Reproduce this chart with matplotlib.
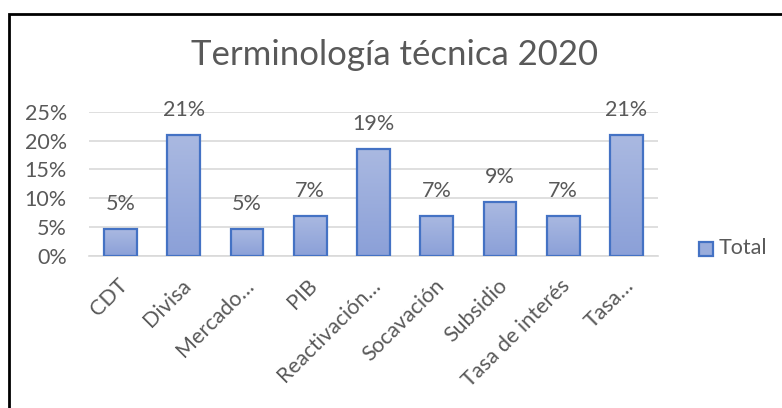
import matplotlib
matplotlib.use("Agg")
import matplotlib.pyplot as plt
import numpy as np
from matplotlib.patches import Rectangle
from matplotlib.ticker import FuncFormatter
from matplotlib.colors import LinearSegmentedColormap
import matplotlib.transforms as mtransforms

plt.rcParams['font.family'] = ['Lato', 'DejaVu Sans']

categories = ["CDT", "Divisa", "Mercado…", "PIB", "Reactivación…", "Socavación",
              "Subsidio", "Tasa de interés", "Tasa…"]
values = [4.65, 20.93, 4.65, 6.98, 18.60, 6.98, 9.30, 6.98, 20.93]
labels = ["5%", "21%", "5%", "7%", "19%", "7%", "9%", "7%", "21%"]
yticks = [0, 5, 10, 15, 20, 25]
series_name = "Total"
title = "Terminología técnica 2020"

W, H = 782, 408
fig = plt.figure(figsize=(W / 100, H / 100), dpi=100)
ax = fig.add_axes([89 / W, 1 - 256 / H, (658 - 89) / W, (256 - 111.7) / H])

gray = "#595959"
fs = 15.5
x = np.arange(len(categories))
bars = ax.bar(x, values, width=0.52, color="#9aaddc", edgecolor="#4472c4",
              linewidth=1.6, zorder=3, label=series_name)

# gradient fill
grad = np.linspace(0, 1, 256).reshape(-1, 1)
cmap = LinearSegmentedColormap.from_list("g", ["#8ba0d8", "#aab9e1"])
for b in bars:
    x0, y0 = b.get_x(), b.get_y()
    w, h = b.get_width(), b.get_height()
    im = ax.imshow(grad, extent=[x0, x0 + w, y0, y0 + h], origin="lower",
                   cmap=cmap, aspect="auto", zorder=2.5)
    im.set_clip_path(b)
    b.set_facecolor("none")

for xi, v, lab in zip(x, values, labels):
    ax.annotate(lab, (xi, v), xytext=(0, 25), textcoords="offset pixels",
                ha="center", va="center", fontsize=fs, color=gray)

ax.set_xlim(-0.5, len(categories) - 0.5)
ax.set_ylim(0, 25)
ax.set_yticks(yticks)
ax.yaxis.set_major_formatter(FuncFormatter(lambda v, p: f"{v:.0f}%"))
ax.grid(axis="y", color="#d9d9d9", linewidth=1.2, zorder=0)
ax.set_axisbelow(True)
for s in ["top", "right", "left"]:
    ax.spines[s].set_visible(False)
ax.spines["bottom"].set_color("#d9d9d9")
ax.spines["bottom"].set_linewidth(1.2)
ax.tick_params(axis="both", length=0, labelsize=fs, colors=gray)
ax.tick_params(axis="y", pad=16)
ax.set_xticks(x)
ax.set_xticklabels(categories, rotation=45, ha="right", va="center",
                   rotation_mode="anchor")
ax.tick_params(axis="x", pad=19)
off = mtransforms.ScaledTranslation(4 / 100, 0, fig.dpi_scale_trans)
for t in ax.get_xticklabels():
    t.set_transform(t.get_transform() + off)

fig.text(395 / W, 1 - 55 / H, title, ha="center", va="center",
         fontsize=25, color=gray)

# legend
fig.patches.append(Rectangle((699 / W, 1 - 256 / H), 14 / W, 14 / H,
                             transform=fig.transFigure, facecolor="#9aaddc",
                             edgecolor="#4472c4", linewidth=1.6))
fig.text(719 / W, 1 - 248.5 / H, series_name, ha="left", va="center",
         fontsize=fs, color=gray)

# outer chart border
fig.patches.append(Rectangle((9 / W, -0.1), 1.2, 1 - 14 / H + 0.1,
                             transform=fig.transFigure, fill=False,
                             edgecolor="black", linewidth=2))

fig.savefig("out.png", dpi=100, facecolor="white")
